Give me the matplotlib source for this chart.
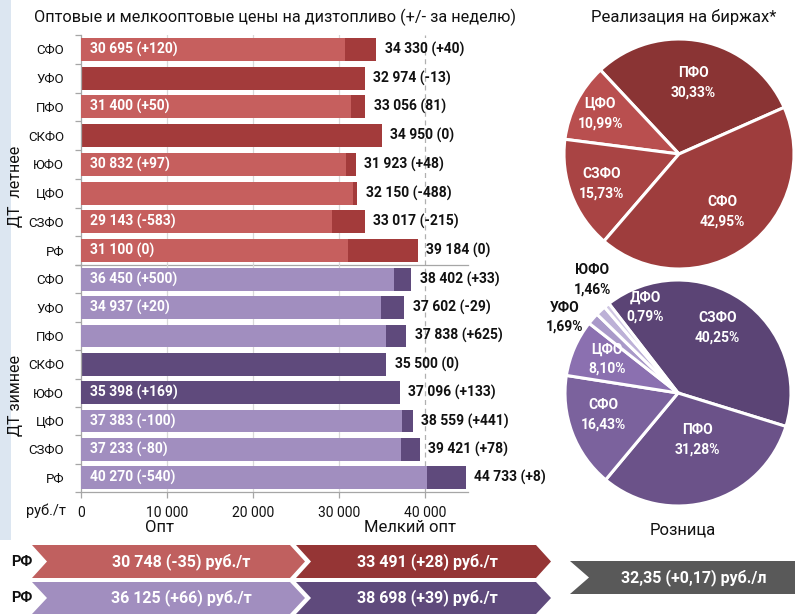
import matplotlib
matplotlib.use("Agg")
import matplotlib.pyplot as plt
from matplotlib.patches import Polygon, Rectangle
import numpy as np

plt.rcParams['font.family'] = ['Roboto', 'DejaVu Sans']

# ---------------- data ----------------
regions = ["СФО", "УФО", "ПФО", "СКФО", "ЮФО", "ЦФО", "СЗФО", "РФ"]

summer_opt = [30695, None, 31400, None, 30832, 31650, 29143, 31100]
summer_opt_labels = ["30 695 (+120)", "", "31 400 (+50)", "", "30 832 (+97)", "",
                     "29 143 (-583)", "31 100 (0)"]
summer_small = [34330, 32974, 33056, 34950, 31923, 32150, 33017, 39184]
summer_small_labels = ["34 330 (+40)", "32 974 (-13)", "33 056 (81)", "34 950 (0)",
                       "31 923 (+48)", "32 150 (-488)", "33 017 (-215)", "39 184 (0)"]

winter_opt = [36450, 34937, 35450, None, 35398, 37383, 37233, 40270]
winter_opt_labels = ["36 450 (+500)", "34 937 (+20)", "", "", "35 398 (+169)",
                     "37 383 (-100)", "37 233 (-80)", "40 270 (-540)"]
winter_small = [38402, 37602, 37838, 35500, 37096, 38559, 39421, 44733]
winter_small_labels = ["38 402 (+33)", "37 602 (-29)", "37 838 (+625)", "35 500 (0)",
                       "37 096 (+133)", "38 559 (+441)", "39 421 (+78)", "44 733 (+8)"]

x_ticks = [0, 10000, 20000, 30000, 40000]
x_tick_labels = ["0", "10 000", "20 000", "30 000", "40 000"]

exchange_regions = ["ПФО", "ЦФО", "СЗФО", "СФО"]
exchange_share = [30.33, 10.99, 15.73, 42.95]

retail_regions = ["СЗФО", "ПФО", "СФО", "ЦФО", "УФО", "ЮФО", "ДФО"]
retail_share = [40.25, 31.28, 16.43, 8.10, 1.69, 1.46, 0.79]

rf_summer_opt = "30 748 (-35) руб./т"
rf_summer_small = "33 491 (+28) руб./т"
rf_winter_opt = "36 125 (+66) руб./т"
rf_winter_small = "38 698 (+39) руб./т"
rf_retail = "32,35 (+0,17) руб./л"

# ---------------- styles ----------------
SUMMER_LIGHT, SUMMER_DARK = "#C65F5E", "#A33B3B"
WINTER_LIGHT, WINTER_DARK = "#A18EBF", "#5F4A7C"
GRID = "#D9D9D9"
AXIS = "#A6A6A6"
TXT = "#111111"

W, H = 795, 615
fig = plt.figure(figsize=(W / 100, H / 100), dpi=100)


def rect(x0, y0, x1, y1):
    return [x0 / W, 1 - y1 / H, (x1 - x0) / W, (y1 - y0) / H]


# background strip on the left edge
bg = fig.add_axes([0, 0, 1, 1], zorder=-5)
bg.set_xlim(0, W)
bg.set_ylim(H, 0)
bg.axis("off")
bg.add_patch(Rectangle((0, 0), 11, 540, color="#DCE6F1", lw=0))


def draw_group(ax, opt, opt_labels, small, small_labels, light, dark,
               dark_opt_rows=(), show_x=False):
    y = np.arange(len(regions))
    ax.barh(y, small, height=0.8, color=dark, zorder=2)
    for i, v in enumerate(opt):
        if v is None:
            continue
        c = dark if i in dark_opt_rows else light
        ax.barh(i, v, height=0.8, color=c, zorder=3)
    for xv in x_ticks[1:-1]:
        ax.axvline(xv, color=GRID, lw=0.9, zorder=1)
    ax.axvline(x_ticks[-1], color="#B0B0B0", lw=0.9, ls=(0, (4, 3)), zorder=1)

    for i, lab in enumerate(opt_labels):
        if lab:
            ax.text(1100, i, lab, color="white", fontsize=10, fontweight="bold",
                    va="center", ha="left", zorder=4)
    for i, lab in enumerate(small_labels):
        end = max(small[i], opt[i] or 0)
        ax.annotate(lab, xy=(end, i), xytext=(6, 0), textcoords="offset points",
                    fontsize=10, fontweight="bold", color=TXT, va="center",
                    ha="left", annotation_clip=False, zorder=4)

    ax.set_xlim(0, 45000)
    ax.set_ylim(len(regions) - 0.5, -0.5)
    ax.set_yticks(y)
    ax.set_yticklabels(regions, fontsize=9.5, color=TXT)
    ax.set_yticks(np.arange(-0.5, len(regions), 1), minor=True)
    ax.tick_params(axis="y", which="major", length=0, pad=12)
    ax.tick_params(axis="y", which="minor", length=4, color=AXIS, width=0.9)
    for s in ("top", "right"):
        ax.spines[s].set_visible(False)
    ax.spines["left"].set_color(AXIS)
    ax.spines["bottom"].set_color(AXIS)
    ax.spines["left"].set_linewidth(0.9)
    ax.spines["bottom"].set_linewidth(0.9)
    ax.set_xticks(x_ticks)
    if show_x:
        ax.set_xticklabels(x_tick_labels, fontsize=10, color=TXT)
        ax.tick_params(axis="x", length=4, color=AXIS, width=0.9, pad=6)
    else:
        ax.tick_params(axis="x", length=0, labelbottom=False)
    ax.set_facecolor("none")


ax_s = fig.add_axes(rect(81, 35, 468, 265))
draw_group(ax_s, summer_opt, summer_opt_labels, summer_small, summer_small_labels,
           SUMMER_LIGHT, SUMMER_DARK, dark_opt_rows=())
ax_w = fig.add_axes(rect(81, 265, 468, 492))
draw_group(ax_w, winter_opt, winter_opt_labels, winter_small, winter_small_labels,
           WINTER_LIGHT, WINTER_DARK, dark_opt_rows=(4,), show_x=True)

fig.text(275 / W, 1 - 17 / H,
         "Оптовые и мелкооптовые цены на дизтопливо (+/- за неделю)",
         fontsize=11.7, ha="center", va="center", color=TXT)
fig.text(16 / W, 1 - 186 / H, "ДТ  летнее", rotation=90, fontsize=11.5,
         ha="center", va="center", color=TXT)
fig.text(16 / W, 1 - 395 / H, "ДТ зимнее", rotation=90, fontsize=11.5,
         ha="center", va="center", color=TXT)
fig.text(46 / W, 1 - 511 / H, "руб./т", fontsize=10.5, ha="center", va="center",
         color=TXT)
fig.text(160 / W, 1 - 527 / H, "Опт", fontsize=12, ha="center", va="center", color=TXT)
fig.text(410 / W, 1 - 527 / H, "Мелкий опт", fontsize=12, ha="center", va="center",
         color=TXT)
fig.text(683 / W, 1 - 530 / H, "Розница", fontsize=12, ha="center", va="center",
         color=TXT)
fig.text(684 / W, 1 - 17 / H, "Реализация на биржах*", fontsize=12, ha="center",
         va="center", color=TXT)

# ---------------- pies ----------------
def pie_axes(cx, cy, r):
    a = fig.add_axes(rect(cx - r, cy - r, cx + r, cy + r))
    a.set_xlim(-1, 1)
    a.set_ylim(-1, 1)
    a.axis("off")
    return a


ap1 = pie_axes(679, 154, 115)
ex_colors = ["#8A3434", "#B94F4F", "#A94444", "#9E3D3D"]
w1, _ = ap1.pie(exchange_share, colors=ex_colors, startangle=23.9, counterclock=True,
                radius=1, wedgeprops=dict(edgecolor="white", linewidth=2.2))
ap1.set_xlim(-1, 1)
ap1.set_ylim(-1, 1)
ex_label_r = [0.63, 0.77, 0.72, 0.63]
for w, name, val, rr in zip(w1, exchange_regions, exchange_share, ex_label_r):
    ang = np.deg2rad((w.theta1 + w.theta2) / 2)
    ap1.text(rr * np.cos(ang), rr * np.sin(ang),
             f"{name}\n{val:.2f}%".replace(".", ","), color="white", fontsize=10,
             fontweight="bold", ha="center", va="center", linespacing=1.5)

ap2 = pie_axes(678, 393, 113)
rt_colors = ["#5B4475", "#6B5289", "#7B629D", "#8B70B0", "#A999C9", "#BDB1D7", "#D0C7E3"]
w2, _ = ap2.pie(retail_share, colors=rt_colors, startangle=127.7, counterclock=False,
                radius=1, wedgeprops=dict(edgecolor="white", linewidth=2.2))
ap2.set_xlim(-1, 1)
ap2.set_ylim(-1, 1)
# label placement (x, y) in pie radius units, and text colour
rt_label_pos = [(0.35, 0.58), (0.17, -0.41), (-0.66, -0.19), (-0.63, 0.30),
                (-1.00, 0.67), (-0.76, 1.00), (-0.29, 0.76)]
rt_label_col = ["white", "white", "white", "white", TXT, TXT, "white"]
for name, val, (px, py), c in zip(retail_regions, retail_share, rt_label_pos,
                                  rt_label_col):
    ap2.text(px, py, f"{name}\n{val:.2f}%".replace(".", ","), color=c, fontsize=10,
             fontweight="bold", ha="center", va="center", linespacing=1.5,
             clip_on=False)

# ---------------- summary chevrons ----------------
ov = fig.add_axes([0, 0, 1, 1], zorder=5)
ov.set_xlim(0, W)
ov.set_ylim(H, 0)
ov.axis("off")


def chevron(x0, x1, y0, y1, notch, tip, color):
    ym = (y0 + y1) / 2
    pts = [(x0, y0), (x1, y0), (x1 + tip, ym), (x1, y1), (x0, y1), (x0 + notch, ym)]
    ov.add_patch(Polygon(pts, closed=True, color=color, lw=0))


chevron(32, 290, 545, 578, 15, 15, "#C0605F")
chevron(296, 536, 545, 578, 15, 15, "#953535")
chevron(32, 290, 582, 614, 15, 15, "#A18EBF")
chevron(296, 536, 582, 614, 15, 15, "#5F4A7C")
chevron(570, 800, 561, 594, 19, 0, "#595959")

for y, a, b in [(561.5, rf_summer_opt, rf_summer_small),
                (598, rf_winter_opt, rf_winter_small)]:
    ov.text(22, y, "РФ", fontsize=10.5, fontweight="bold", ha="center", va="center",
            color=TXT)
    ov.text(181, y, a, fontsize=11.5, fontweight="bold", ha="center", va="center",
            color="white")
    ov.text(427, y, b, fontsize=11.5, fontweight="bold", ha="center", va="center",
            color="white")
ov.text(694, 577.5, rf_retail, fontsize=11.5, fontweight="bold", ha="center",
        va="center", color="white")

fig.savefig("out.png", dpi=100)
